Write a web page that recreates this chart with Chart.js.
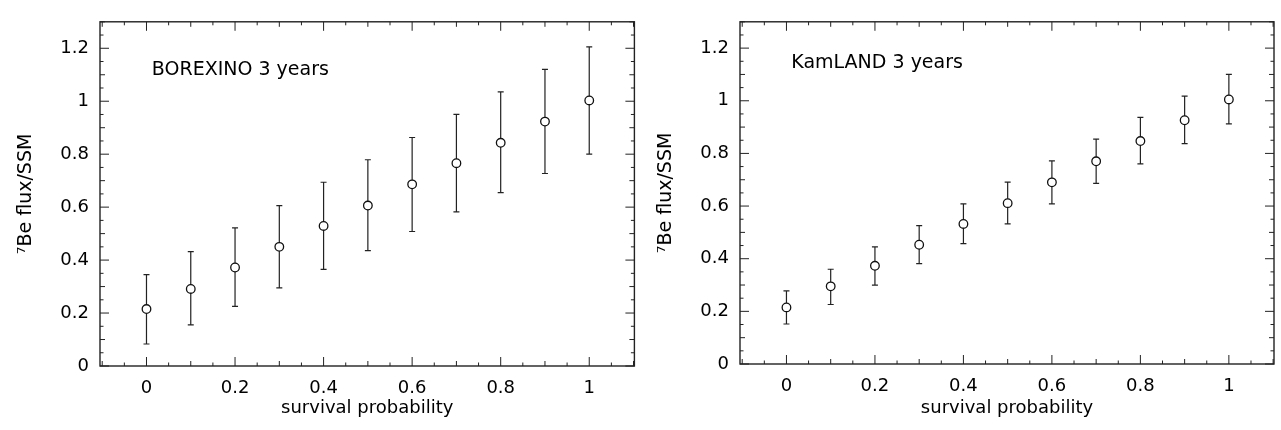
<!DOCTYPE html>
<html>
<head>
<meta charset="utf-8">
<script src="https://cdn.jsdelivr.net/npm/chart.js@4"></script>
<style>
  body { margin: 0; background: #fff; }
  #wrap { position: relative; width: 1281px; height: 430px; }
  canvas { position: absolute; top: 0; }
</style>
</head>
<body>
<div id="wrap">
  <canvas id="left" width="640" height="430" style="left:0px"></canvas>
  <canvas id="right" width="641" height="430" style="left:640px"></canvas>
</div>
<script>
// survival probability (x)
const probs = [0, 0.1, 0.2, 0.3, 0.4, 0.5, 0.6, 0.7, 0.8, 0.9, 1.0];

// BOREXINO 3 years
const borexinoFlux = [0.215, 0.291, 0.372, 0.450, 0.529, 0.606, 0.686, 0.766, 0.843, 0.923, 1.003];
const borexinoHi   = [0.345, 0.432, 0.522, 0.606, 0.694, 0.779, 0.863, 0.950, 1.035, 1.120, 1.205];
const borexinoLo   = [0.083, 0.155, 0.225, 0.295, 0.365, 0.436, 0.508, 0.582, 0.655, 0.727, 0.800];

// KamLAND 3 years
const kamlandFlux = [0.215, 0.295, 0.373, 0.453, 0.532, 0.611, 0.690, 0.770, 0.847, 0.926, 1.005];
const kamlandHi   = [0.278, 0.360, 0.445, 0.526, 0.608, 0.691, 0.772, 0.854, 0.937, 1.018, 1.100];
const kamlandLo   = [0.152, 0.226, 0.300, 0.381, 0.457, 0.532, 0.608, 0.686, 0.760, 0.837, 0.912];

// axis ticks
const xTicks = [0, 0.2, 0.4, 0.6, 0.8, 1];
const xTickLabels = ["0", "0.2", "0.4", "0.6", "0.8", "1"];
const yTicks = [0, 0.2, 0.4, 0.6, 0.8, 1, 1.2];
const yTickLabels = ["0", "0.2", "0.4", "0.6", "0.8", "1", "1.2"];

const FONT = "'DejaVu Sans', sans-serif";
const INK = "#000";

// error bars, drawn under the circles
const errorBars = {
  id: "errorBars",
  beforeDatasetsDraw(chart) {
    const { ctx, scales: { x, y } } = chart;
    const opts = chart.options.plugins.errorBars;
    ctx.save();
    ctx.strokeStyle = "#222";
    ctx.lineWidth = 1.2;
    probs.forEach((p, i) => {
      const px = x.getPixelForValue(p);
      const yt = y.getPixelForValue(opts.hi[i]);
      const yb = y.getPixelForValue(opts.lo[i]);
      ctx.beginPath();
      ctx.moveTo(px, yt); ctx.lineTo(px, yb);
      ctx.moveTo(px - 3, yt); ctx.lineTo(px + 3, yt);
      ctx.moveTo(px - 3, yb); ctx.lineTo(px + 3, yb);
      ctx.stroke();
    });
    ctx.restore();
  }
};

// box frame with inward ticks on all four sides + label text
const frame = {
  id: "frame",
  afterDraw(chart) {
    const { ctx, chartArea: a, scales: { x, y } } = chart;
    const opts = chart.options.plugins.frame;
    ctx.save();
    ctx.strokeStyle = "#222";
    ctx.lineWidth = 1.4;
    ctx.strokeRect(a.left, a.top, a.right - a.left, a.bottom - a.top);

    ctx.lineWidth = 1;
    ctx.beginPath();
    for (let k = -2; k <= 22; k++) {
      const v = k * 0.05;
      if (v < x.min || v > x.max) continue;
      const len = k % 4 === 0 ? 9 : (k % 2 === 0 ? 5 : 3.5);
      const px = x.getPixelForValue(v);
      ctx.moveTo(px, a.bottom); ctx.lineTo(px, a.bottom - len);
      ctx.moveTo(px, a.top); ctx.lineTo(px, a.top + len);
    }
    for (let k = 0; k <= 26; k++) {
      const v = k * 0.05;
      if (v > y.max) continue;
      const len = k % 4 === 0 ? 9 : (k % 2 === 0 ? 5 : 3.5);
      const py = y.getPixelForValue(v);
      ctx.moveTo(a.left, py); ctx.lineTo(a.left + len, py);
      ctx.moveTo(a.right, py); ctx.lineTo(a.right - len, py);
    }
    ctx.stroke();

    ctx.fillStyle = INK;
    ctx.font = "19px " + FONT;
    ctx.textBaseline = "middle";
    ctx.textAlign = "left";
    ctx.fillText(opts.text, x.getPixelForValue(opts.tx), y.getPixelForValue(opts.ty));
    ctx.restore();
  }
};

function makeChart(id, flux, lo, hi, label, tx, ty, xAxisHeight, rightPad) {
  const ctx = document.getElementById(id).getContext("2d");
  return new Chart(ctx, {
    type: "scatter",
    data: {
      datasets: [{
        data: probs.map((p, i) => ({ x: p, y: flux[i] })),
        pointRadius: 4.3,
        pointBorderWidth: 1.3,
        pointBorderColor: "#111",
        pointBackgroundColor: "#fff",
        showLine: false
      }]
    },
    options: {
      responsive: false,
      animation: false,
      layout: { padding: { left: 0, top: 7, right: rightPad, bottom: 0 } },
      plugins: {
        legend: { display: false },
        tooltip: { enabled: false },
        errorBars: { lo: lo, hi: hi },
        frame: { text: label, tx: tx, ty: ty }
      },
      scales: {
        x: {
          type: "linear",
          min: -0.105,
          max: 1.102,
          afterBuildTicks: s => { s.ticks = xTicks.map(v => ({ value: v })); },
          afterFit: s => { s.height = xAxisHeight; },
          grid: { display: false, drawTicks: false },
          border: { display: false },
          ticks: {
            autoSkip: false,
            maxRotation: 0,
            padding: 12,
            color: INK,
            font: { family: FONT, size: 18 },
            callback: (v, i) => xTickLabels[i]
          },
          title: {
            display: true,
            text: "survival probability",
            color: INK,
            font: { family: FONT, size: 18 },
            padding: { top: 2, bottom: 11 }
          }
        },
        y: {
          type: "linear",
          min: 0,
          max: 1.3,
          afterBuildTicks: s => { s.ticks = yTicks.map(v => ({ value: v })); },
          afterFit: s => { s.width = 100; },
          grid: { display: false, drawTicks: false },
          border: { display: false },
          ticks: {
            autoSkip: false,
            padding: 11,
            color: INK,
            font: { family: FONT, size: 18 },
            callback: (v, i) => yTickLabels[i]
          },
          title: {
            display: true,
            text: "\u2077Be flux/SSM",
            color: INK,
            font: { family: FONT, size: 19 },
            padding: { top: 15, bottom: 0 }
          }
        }
      }
    },
    plugins: [errorBars, frame]
  });
}

makeChart("left", borexinoFlux, borexinoLo, borexinoHi, "BOREXINO 3 years", 0.012, 1.116, 64, 4);
makeChart("right", kamlandFlux, kamlandLo, kamlandHi, "KamLAND 3 years", 0.011, 1.143, 66, 7);
</script>
</body>
</html>
